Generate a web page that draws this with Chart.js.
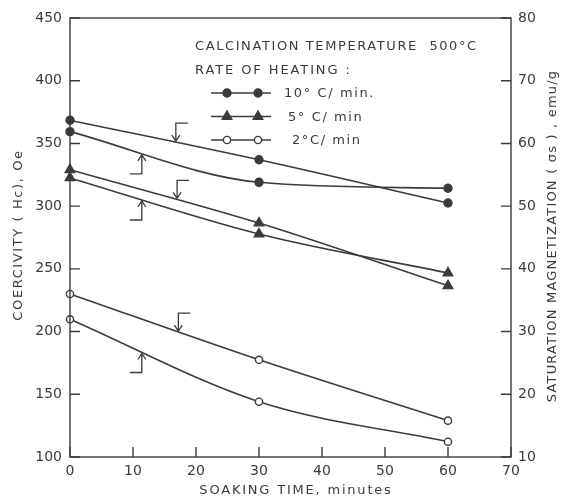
<!DOCTYPE html>
<html>
<head>
<meta charset="utf-8">
<script src="https://cdn.jsdelivr.net/npm/chart.js@4.4.1/dist/chart.umd.min.js"></script>
<style>
  html, body { margin: 0; padding: 0; background: #fff; }
</style>
</head>
<body>
<canvas id="zgchart" width="567" height="500"></canvas>
<script>
var soakTime = [0, 30, 60];
var rates = ["10° C/ min.", "5° C/ min", "2°C/ min"];

// saturation magnetization, emu/g (right axis)
var sigma10 = [63.7, 57.4, 50.5];
var sigma5 = [55.8, 47.3, 37.3];
var sigma2 = [36.0, 25.5, 15.8];

// coercivity, Oe (left axis)
var hc10 = [359.4, 319.0, 314.3];
var hc5 = [322.5, 277.8, 246.7];
var hc2 = [209.8, 144.1, 112.2];

var xTicks = [0, 10, 20, 30, 40, 50, 60, 70];
var hcTicks = [100, 150, 200, 250, 300, 350, 400, 450];
var sigmaTicks = [10, 20, 30, 40, 50, 60, 70, 80];

var ink = "#3b3b3b";
var markerStyle = ["circle", "triangle", "circle"];
var markerFill = [ink, ink, "#fff"];
var markerSize = [4, 5.5, 3.6];

function zgpoints(values) {
  return soakTime.map((t, i) => ({x: t, y: values[i]}));
}

var chartdatasets = [];
[[sigma10, hc10], [sigma5, hc5], [sigma2, hc2]].forEach(function(pair, r) {
  chartdatasets.push({label: rates[r] + " σs", data: zgpoints(pair[0]), yAxisID: "y2"});
  chartdatasets.push({label: rates[r] + " Hc", data: zgpoints(pair[1]), yAxisID: "y"});
});
chartdatasets.forEach(function(ds, i) {
  var r = Math.floor(i / 2);
  Object.assign(ds, {
    borderColor: ink, borderWidth: 1.6, cubicInterpolationMode: "monotone", clip: false,
    pointStyle: markerStyle[r], pointRadius: markerSize[r], pointHoverRadius: markerSize[r],
    pointBackgroundColor: markerFill[r], pointBorderColor: ink, pointBorderWidth: 1.4
  });
});

// arrows: which dataset, where (minutes), which axis the curve is read on
var arrowSpecs = [
  {ds: 0, at: 16.8, side: "right"}, {ds: 1, at: 11.4, side: "left"},
  {ds: 2, at: 17.0, side: "right"}, {ds: 3, at: 11.4, side: "left"},
  {ds: 4, at: 17.2, side: "right"}, {ds: 5, at: 11.4, side: "left"}
];

var txtFont = "13px 'DejaVu Sans'";

function yOnCurve(chart, dsIndex, xPix) {
  var pts = chart.getDatasetMeta(dsIndex).data;
  for (var k = 0; k < pts.length - 1; k++) {
    var a = pts[k], b = pts[k + 1];
    if (xPix < a.x || xPix > b.x) continue;
    var c1x = a.cp2x, c1y = a.cp2y, c2x = b.cp1x, c2y = b.cp1y;
    var lo = 0, hi = 1, t = 0.5;
    for (var n = 0; n < 40; n++) {
      t = (lo + hi) / 2;
      var u = 1 - t;
      var bx = u*u*u*a.x + 3*u*u*t*c1x + 3*u*t*t*c2x + t*t*t*b.x;
      if (bx < xPix) lo = t; else hi = t;
    }
    var u2 = 1 - t;
    return u2*u2*u2*a.y + 3*u2*u2*t*c1y + 3*u2*t*t*c2y + t*t*t*b.y;
  }
  return pts[0].y;
}

function spacedText(ctx, text, x, y, align, spacing) {
  ctx.letterSpacing = spacing + "px";
  ctx.textAlign = align;
  ctx.fillText(text, x, y);
  ctx.letterSpacing = "0px";
}

var zgdecor = {
  id: "zgdecor",
  afterDraw: function(chart) {
    var ctx = chart.ctx, area = chart.chartArea;
    var sx = chart.scales.x, sy = chart.scales.y, sy2 = chart.scales.y2;
    ctx.save();
    ctx.strokeStyle = ink;
    ctx.fillStyle = ink;
    ctx.lineWidth = 1.4;

    // frame
    ctx.strokeRect(area.left, area.top, area.right - area.left, area.bottom - area.top);

    // inward ticks
    ctx.beginPath();
    xTicks.forEach(function(v) {
      var px = sx.getPixelForValue(v);
      ctx.moveTo(px, area.bottom); ctx.lineTo(px, area.bottom - 10);
    });
    hcTicks.forEach(function(v) {
      var py = sy.getPixelForValue(v);
      ctx.moveTo(area.left, py); ctx.lineTo(area.left + 10, py);
    });
    sigmaTicks.forEach(function(v) {
      var py = sy2.getPixelForValue(v);
      ctx.moveTo(area.right, py); ctx.lineTo(area.right - 10, py);
    });
    ctx.stroke();

    // axis titles
    ctx.font = txtFont;
    ctx.textBaseline = "middle";
    spacedText(ctx, "SOAKING TIME, minutes", 296, 491, "center", 1.8);
    ctx.save();
    ctx.translate(19, 235);
    ctx.rotate(-Math.PI / 2);
    spacedText(ctx, "COERCIVITY ( Hc), Oe", 0, 0, "center", 1.6);
    ctx.restore();
    ctx.save();
    ctx.translate(553, 236);
    ctx.rotate(-Math.PI / 2);
    spacedText(ctx, "SATURATION MAGNETIZATION ( σs ) , emu/g", 0, 0, "center", 1.2);
    ctx.restore();

    // legend
    spacedText(ctx, "CALCINATION TEMPERATURE  500°C", 195, 47, "left", 1.6);
    spacedText(ctx, "RATE OF HEATING :", 195, 71, "left", 1.9);
    rates.forEach(function(label, r) {
      var ly = 93 + r * 23.5;
      ctx.lineWidth = 1.6;
      ctx.beginPath(); ctx.moveTo(211, ly); ctx.lineTo(271, ly); ctx.stroke();
      ctx.fillStyle = markerFill[r];
      ctx.lineWidth = 1.4;
      [227, 258].forEach(function(mx) {
        Chart.helpers.drawPoint(ctx, {pointStyle: markerStyle[r], radius: markerSize[r], rotation: 0, borderWidth: 1.4}, mx, ly);
      });
      ctx.fillStyle = ink;
      spacedText(ctx, label, 284 + r * 4, ly + 1, "left", 1.6);
    });

    // arrows
    ctx.lineWidth = 1.3;
    arrowSpecs.forEach(function(a) {
      var px = sx.getPixelForValue(a.at);
      var py = yOnCurve(chart, a.ds, px);
      ctx.beginPath();
      if (a.side == "right") {
        ctx.moveTo(px + 12, py - 19); ctx.lineTo(px, py - 19); ctx.lineTo(px, py - 1);
        ctx.moveTo(px - 4, py - 7); ctx.lineTo(px, py - 1); ctx.lineTo(px + 4, py - 7);
      } else {
        ctx.moveTo(px - 12, py + 20); ctx.lineTo(px, py + 20); ctx.lineTo(px, py + 1);
        ctx.moveTo(px - 4, py + 7); ctx.lineTo(px, py + 1); ctx.lineTo(px + 4, py + 7);
      }
      ctx.stroke();
    });
    ctx.restore();
  }
};

var tickFont = {family: "'DejaVu Sans'", size: 14};

new Chart(document.getElementById("zgchart"), {
  type: "line",
  data: {datasets: chartdatasets},
  options: {
    responsive: false, devicePixelRatio: 1, animation: false,
    layout: {padding: {top: 18, left: 0, right: 0, bottom: 0}},
    plugins: {legend: {display: false}, tooltip: {enabled: false}},
    scales: {
      x: {
        type: "linear", min: xTicks[0], max: xTicks[xTicks.length - 1],
        ticks: {stepSize: 10, color: ink, font: tickFont, padding: 6},
        grid: {display: false, drawTicks: false}, border: {display: false},
        afterFit: function(s) { s.height = 43; }
      },
      y: {
        position: "left", min: hcTicks[0], max: hcTicks[hcTicks.length - 1],
        ticks: {stepSize: 50, color: ink, font: tickFont, padding: 8},
        grid: {display: false, drawTicks: false}, border: {display: false},
        afterFit: function(s) { s.width = 70; }
      },
      y2: {
        position: "right", min: sigmaTicks[0], max: sigmaTicks[sigmaTicks.length - 1],
        ticks: {stepSize: 10, color: ink, font: tickFont, padding: 7},
        grid: {display: false, drawTicks: false}, border: {display: false},
        afterFit: function(s) { s.width = 56; }
      }
    }
  },
  plugins: [zgdecor]
});
</script>
</body>
</html>
